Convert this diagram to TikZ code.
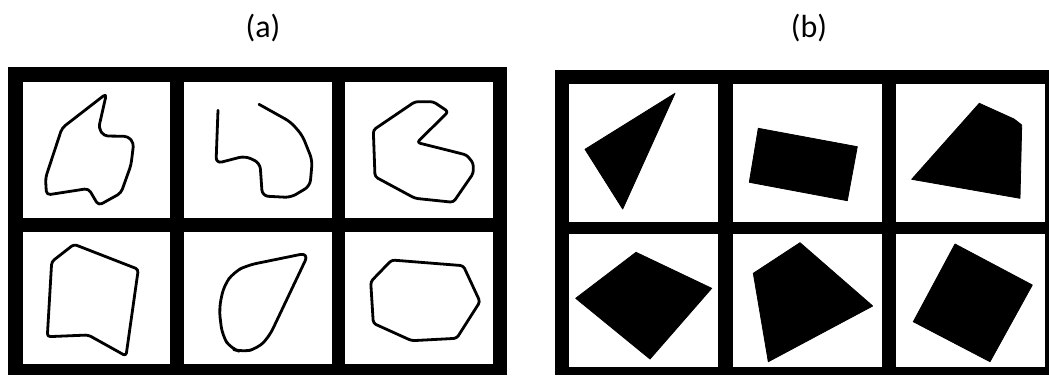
\documentclass[tikz,border=0pt]{standalone}
\usepackage{fontspec}
\setmainfont{Carlito}
\begin{document}
\begin{tikzpicture}[x=1pt,y=-1pt,
  frame/.style={fill=black},
  cell/.style={fill=white},
  outline/.style={draw=black,line width=2.8pt,line join=round,line cap=round,rounded corners=3pt},
  curvy/.style={outline,rounded corners=6pt},
  solid shape/.style={fill=black,draw=black,line width=0.8pt,line join=round},
  lbl/.style={inner sep=0pt,font=\fontsize{32}{38}\selectfont}]
\useasboundingbox (0,0) rectangle (1049,375);
\fill[white] (0,0) rectangle (1049,375);
% labels
\node[lbl] (la) at (263,28.5) {(a)};
\node[lbl] (lb) at (809,28.5) {(b)};
% panel (a)
\fill[frame] (8,67) rectangle (507,375);
\foreach \xa/\xb in {22.7/170,184/331.7,345/493.3}{
  \fill[cell] (\xa,81.7) rectangle (\xb,218.3);
  \fill[cell] (\xa,231.7) rectangle (\xb,364);
}
% panel (b)
\fill[frame] (555,70) rectangle (1049,375);
\foreach \xa/\xb in {569.3/718.3,732.7/881.7,896/1045}{
  \fill[cell] (\xa,84) rectangle (\xb,221.7);
  \fill[cell] (\xa,234) rectangle (\xb,366.7);
}
% (a) shapes
\draw[outline,rounded corners=4pt] (106.5,93.5) -- (62,128) -- (45.5,178) -- (46.5,195) -- (88.5,188.5)
  -- (98.5,205.5) -- (121,193) -- (131,165) -- (133.7,143) -- (128,136.3) -- (104,136) -- (98.7,128) -- cycle;
\draw[curvy] (218,110.3) -- (216,163.5) -- (245,156) -- (260,163) -- (262.3,196) -- (290.7,197.5)
  -- (310,186) -- (312.3,160.3) -- (302.3,135.3) -- (290.7,122) -- (259,104.3);
\draw[outline] (415,101.7) -- (433.3,101.7) -- (448.3,111.7) -- (417,142.5) -- (466.7,155) -- (473.3,163.3)
  -- (473.3,173.3) -- (453.3,202.3) -- (415,198.3) -- (375,176.7) -- (373.3,130) -- cycle;
\draw[outline] (51.7,261.7) -- (74,244.3) -- (138.3,269.3) -- (126,356) -- (88.3,335) -- (47.3,336.7) -- cycle;
\draw[curvy,rounded corners=9pt] (309,252.7) -- (247.3,265.3) -- (234,272) -- (224,285.3) -- (219,308.7) -- (222.3,335.3)
  -- (230.7,348.7) -- (242.3,352) -- (257.3,348.7) -- (269,337) -- cycle;
\draw[outline] (391.7,260) -- (463.3,265.7) -- (480,301.7) -- (456.7,338.3) -- (411.7,340.7) -- (373.3,323.3)
  -- (370.7,281.7) -- cycle;
% (b) shapes
\filldraw[solid shape] (675,93.3) -- (585,149.3) -- (622.7,209) -- cycle;
\filldraw[solid shape] (758.3,128.3) -- (857.3,146.7) -- (847.3,200.7) -- (749.3,182.3) -- cycle;
\filldraw[solid shape] (979.3,103.3) -- (1014,119) -- (1021.7,125) -- (1020,198.3) -- (911.7,179.3) -- cycle;
\filldraw[solid shape] (636,252.3) -- (711.7,288.3) -- (650,359) -- (575.7,298.3) -- cycle;
\filldraw[solid shape] (800,242.7) -- (872.7,306) -- (768.3,361.7) -- (753.3,273.3) -- cycle;
\filldraw[solid shape] (955,244) -- (1032.3,285) -- (990,361.7) -- (913.3,321.7) -- cycle;
\end{tikzpicture}
\end{document}
